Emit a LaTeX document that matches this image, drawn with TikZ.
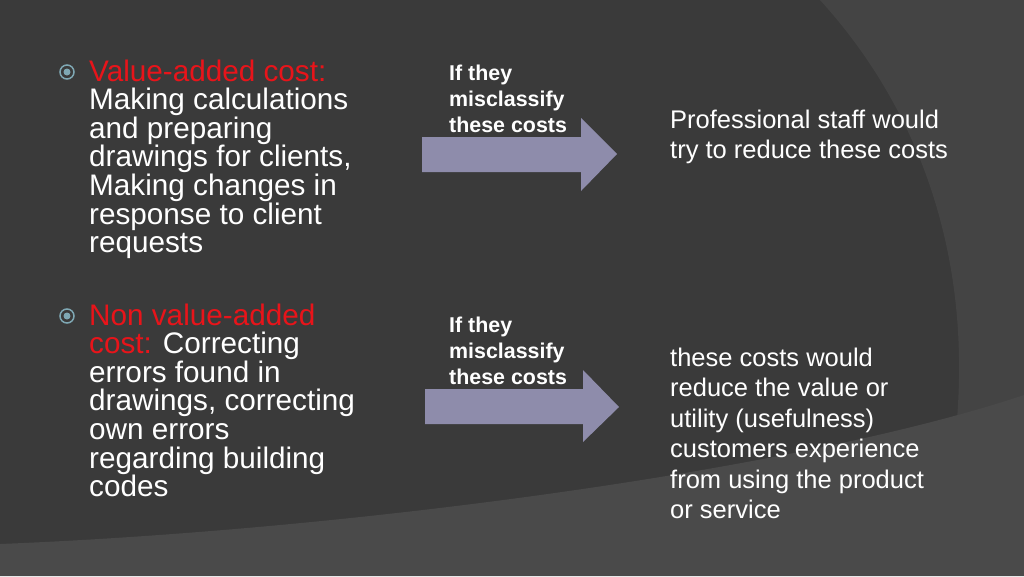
\documentclass[tikz,border=0pt]{standalone}
\usepackage{fontspec}
\setmainfont{Liberation Sans}
\definecolor{bgdark}{HTML}{3A3A3A}
\definecolor{bgmid}{HTML}{444444}
\definecolor{bgband}{HTML}{4A4A4A}
\definecolor{arrowfill}{HTML}{8E8CAB}
\definecolor{redtxt}{HTML}{E8141A}
\definecolor{bulletc}{HTML}{7FA8B4}
\begin{document}
\begin{tikzpicture}[x=1pt,y=-1pt,
  maintxt/.style={anchor=base west,align=left,text=white,inner sep=0pt,font=\fontsize{29.7}{28.6}\selectfont},
  righttxt/.style={anchor=base west,align=left,text=white,inner sep=0pt,font=\fontsize{25.5}{30.5}\selectfont},
  boldtxt/.style={anchor=base west,align=left,text=white,inner sep=0pt,font=\bfseries\fontsize{21.4}{26}\selectfont},
  arrowshape/.style={fill=arrowfill,draw=none},
  bulletmark/.style={circle,draw=bulletc,line width=1.5pt,minimum size=14pt,inner sep=0pt,
     path picture={\fill[bulletc] (path picture bounding box.center) circle (3.5pt);}}]
\fill[bgdark] (0,0) rectangle (1024,576);
\fill[bgmid] (820,0) .. controls (920,110) and (975,260) .. (955,440) -- (1024,440) -- (1024,0) -- cycle;
\fill[bgband] (0,576) -- (0,544) .. controls (350,530) and (800,470) .. (1024,395) -- (1024,576) -- cycle;
\useasboundingbox (0,0) rectangle (1024,576);

\node[bulletmark] (b1) at (67,72) {};
\node[maintxt] (t1) at (89,252.6) {\textcolor{redtxt}{Value-added cost:}\\Making calculations\\and preparing\\drawings for clients,\\Making changes in\\response to client\\requests};
\node[bulletmark] (b2) at (67,316) {};
\node[maintxt] (t2) at (89,496.6) {\textcolor{redtxt}{Non value-added}\\\textcolor{redtxt}{cost:} Correcting\\errors found in\\drawings, correcting\\own errors\\regarding building\\codes};

\node[boldtxt] (l1) at (449,132) {If they\\misclassify\\these costs};
\node[boldtxt] (l2) at (449,384) {If they\\misclassify\\these costs};

\fill[arrowshape] (422,137) -- (581,137) -- (581,118) -- (617,154) -- (581,191) -- (581,172) -- (422,172) -- cycle;
\fill[arrowshape] (425,389) -- (583,389) -- (583,370) -- (619,407) -- (583,442) -- (583,424) -- (425,424) -- cycle;

\node[righttxt] (r1) at (670,158.5) {Professional staff would\\try to reduce these costs};
\node[righttxt] (r2) at (670,518.5) {these costs would\\reduce the value or\\utility (usefulness)\\customers experience\\from using the product\\or service};
\end{tikzpicture}
\end{document}
